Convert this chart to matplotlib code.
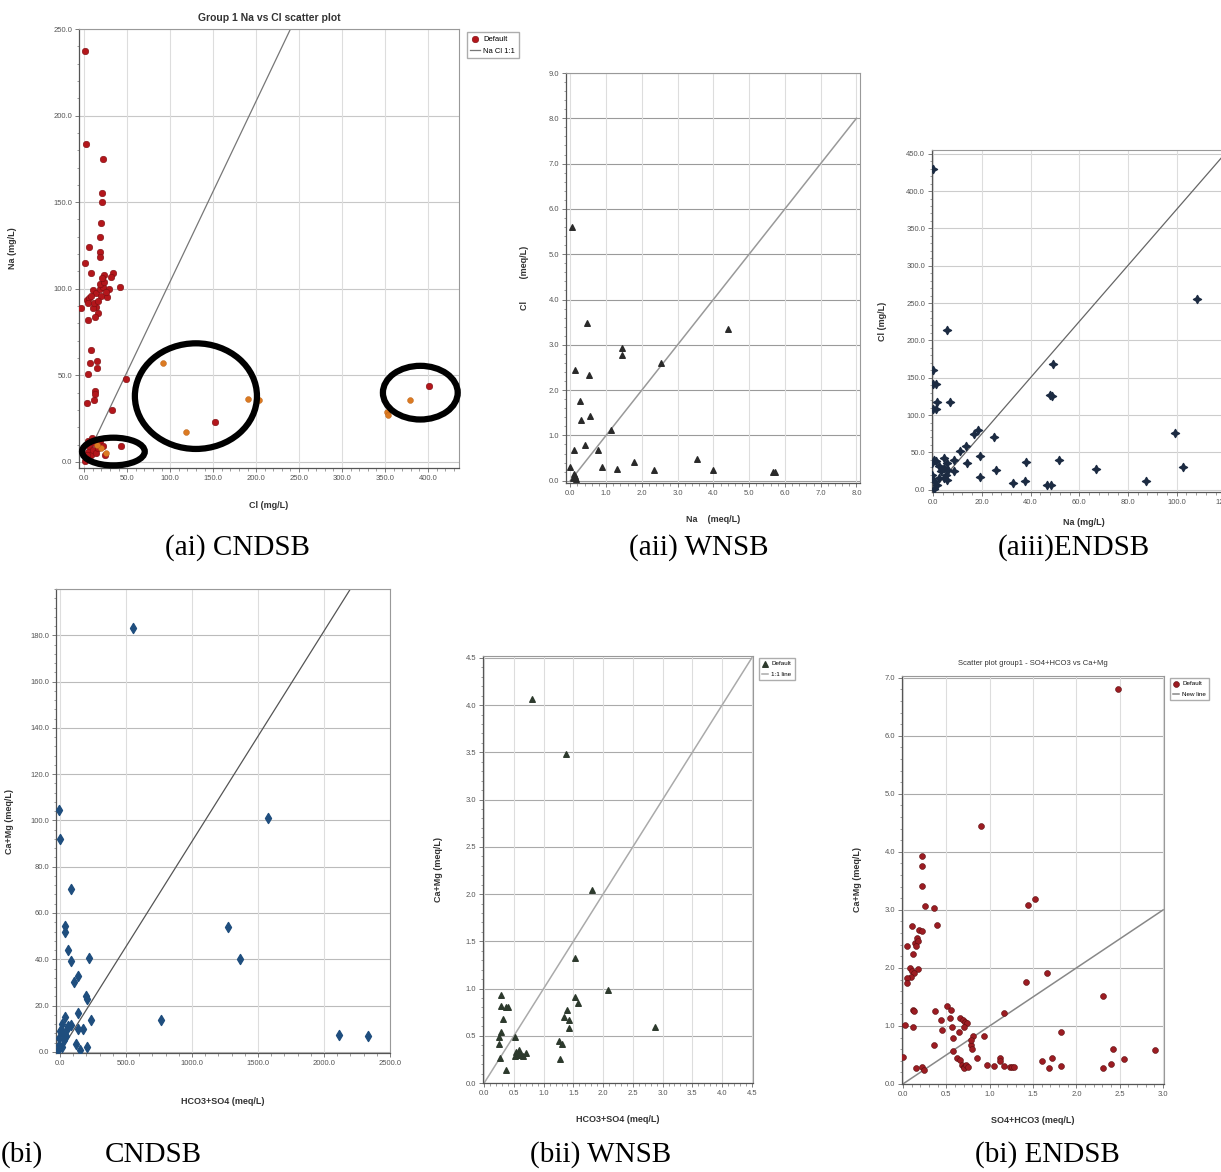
import matplotlib
matplotlib.use("Agg")
import matplotlib.pyplot as plt
from matplotlib.patches import Ellipse
from matplotlib.ticker import AutoMinorLocator, FormatStrFormatter
import numpy as np

W, H = 1221, 1172

# ---- (ai) CNDSB : Na vs Cl (mg/L) ----
ai_red_x = [1.5, 2, 22, 21, 21, 20, 19, 18, 18, 6, 1, 8.5, 34, 31, 23, -4, 5, 8, 7, 15, 14.5, 5,
            13, 12.5, 12, 3.5, 48.5, 32.6, 152, 401, 43,
            3, 6, 10, 14, 18, 22, 26, 14, 16, 13, 5, 10, 18, 23, 29, 42, 20, 12, 8, 25, 16, 21,
            2, 4, 6, 8, 10, 12, 14, 16, 18, 22, 24, 5, 9, 1, 3]
ai_red_y = [237.5, 183.5, 175, 155.5, 150, 138, 130, 121, 118.5, 124, 114.7, 109, 109, 107, 108, 89, 82,
            64.6, 57, 58, 54.5, 50.7, 41, 39.5, 36, 34, 48, 30, 23, 43.8, 9,
            93.5, 94.4, 99.3, 97.3, 99.7, 101, 95.4, 89.6, 85.8, 83.8, 91.5, 88.7, 103, 104, 100, 101,
            96, 92, 96, 98, 93, 106,
            2, 6, 9, 4, 7, 11, 5, 8, 12, 9, 4, 12, 14, 0.5, 4]
ai_orange_x = [92, 119, 191, 203, 352, 353, 379, 20, 25, 15]
ai_orange_y = [57, 17, 36.6, 36, 29, 27, 35.7, 8, 5, 10]
ai_line_x = [0, 240]
ai_line_y = [0, 250]
# circled groups: centre x, centre y, width, height
ai_circles = [(34, 6, 73, 16), (130, 38, 142, 61), (391, 40, 87, 31)]

# ---- (aii) WNSB : Cl vs Na (meq/L) ----
aii_x = [0.05, 0.48, 1.44, 1.44, 0.14, 0.53, 2.54, 4.42, 0.28, 0.54, 0.31, 1.14, 0.42, 0.09, 0.77,
         0.0, 0.88, 1.3, 1.77, 2.33, 3.53, 4.0, 5.67, 5.72, 0.1, 0.12, 0.08, 0.15]
aii_y = [5.6, 3.48, 2.92, 2.77, 2.44, 2.34, 2.59, 3.36, 1.77, 1.43, 1.34, 1.11, 0.79, 0.68, 0.68,
         0.31, 0.31, 0.26, 0.42, 0.23, 0.48, 0.23, 0.2, 0.2, 0.15, 0.1, 0.06, 0.04]
aii_line_x = [0, 8]
aii_line_y = [0, 8]

# ---- (aiii) ENDSB : Cl vs Na (mg/L) ----
aiii_x = [0.1, 108.5, 5.6, 0, 0, 1.0, 1.5, 6.7, 0, 1.2, 49.2, 48, 49, 99.5, 102.8, 87.4, 67, 51.7,
          38, 37.7, 32.9, 46.9, 48.2, 25.9, 24.9, 19.1, 19.1, 18.3, 16.6, 13.6, 13.9, 11.1, 8.4,
          8.7, 5.9, 4.4, 0.3, 1.0, -0.4, 2.3, 4.4, 5.8, 3.0, 5.1, 2.3, 4.4, 5.8, -0.4, 0.3, 1.6, 0.3]
aiii_y = [429, 256, 214.5, 161, 142, 142, 118, 118, 108, 108, 168, 127, 126, 76, 30, 11.5, 28, 39.5,
          37, 11.5, 9.3, 7, 7, 26, 70, 45, 17, 80, 74.5, 58, 36, 51.4, 40,
          25.7, 26, 42.6, 40.4, 38, 36, 31.5, 29, 36, 24.8, 20.4, 16, 16, 13.7, 20.4, 11.5, 7, 0.4]
aiii_line_x = [0, 122]
aiii_line_y = [0, 458]

# ---- (bi) CNDSB : Ca+Mg vs HCO3+SO4 ----
bi_x = [550, -5, 0, 1578, 81, 38, 38, 1275, 63, 83, 220, 1364, 139, 106, 194, 207, 134, 232, 763,
        2116, 2331, 38, 81, 139, 177, 121, 207, 152, 12, 0, -5, -8, 25, 50, 12, -12, 30, 60, 45]
bi_y = [183, 104.3, 91.9, 101, 70.3, 54.3, 52, 53.9, 43.9, 39.3, 40.7, 40.3, 32.9, 30, 24, 22.9,
        16.7, 13.9, 13.9, 7.1, 6.7, 15, 11.4, 10, 10, 3.6, 1.9, 1, 12, 9, 6, 3, 8, 10, 2, 1, 5, 11, 7]
bi_line_x = [0, 2200]
bi_line_y = [0, 200]

# ---- (bii) WNSB : Ca+Mg vs HCO3+SO4 ----
bii_x = [0.81, 1.37, 1.82, 1.52, 2.08, 1.53, 1.58, 1.39, 1.34, 1.42, 1.42, 2.88, 0.29, 0.29, 0.37,
         0.4, 0.32, 0.28, 0.25, 0.25, 0.51, 0.26, 0.37, 1.26, 1.30, 1.28,
         0.52, 0.56, 0.6, 0.54, 0.58, 0.7, 0.66, 0.62]
bii_y = [4.06, 3.48, 2.04, 1.32, 0.98, 0.91, 0.85, 0.77, 0.70, 0.67, 0.58, 0.59, 0.93, 0.82, 0.8,
         0.8, 0.68, 0.54, 0.49, 0.41, 0.49, 0.26, 0.14, 0.44, 0.41, 0.25,
         0.29, 0.31, 0.3, 0.33, 0.35, 0.32, 0.29, 0.3]
bii_line_x = [0, 4.5]
bii_line_y = [0, 4.5]

# ---- (bi) ENDSB : Ca+Mg vs SO4+HCO3 ----
be_x = [2.48, 0.90, 0.22, 0.22, 0.22, 0.26, 0.36, 0.39, 1.44, 1.52, 1.42, 1.66, 2.31, 1.82, 1.17,
        0.81, 0.94, 0.10, 0.05, 0.12, 0.19, 0.22, 0.16, 0.14, 0.18, 0.15, 0.08, 0.10, 0.13, 0.09,
        0.05, 0.18, 0.05, 0.03, 0.12, 0.12, 0.13, 0.37, 0.44, 0.45, 0.36, 0.0, 0.15, 0.22, 0.24,
        0.51, 0.55, 0.54, 0.57, 0.58, 0.66, 0.65, 0.58, 0.62, 0.66, 0.68, 0.69, 0.72, 0.74, 0.70,
        0.78, 0.80, 0.78, 0.70, 0.71, 0.73, 0.75, 0.85, 0.97, 1.05, 1.12, 1.12, 1.16, 1.24, 1.26,
        1.28, 1.60, 1.68, 1.72, 1.82, 2.31, 2.40, 2.42, 2.55, 2.91]
be_y = [6.8, 4.45, 3.92, 3.75, 3.42, 3.07, 3.03, 2.74, 3.09, 3.18, 1.76, 1.92, 1.52, 0.89, 1.22,
        0.83, 0.83, 2.72, 2.38, 2.24, 2.66, 2.63, 2.51, 2.43, 2.46, 2.38, 2.0, 1.94, 1.91, 1.85,
        1.82, 1.99, 1.74, 1.02, 0.99, 1.28, 1.25, 1.25, 1.1, 0.93, 0.67, 0.47, 0.27, 0.30, 0.24,
        1.34, 1.28, 1.13, 0.99, 0.79, 1.13, 0.9, 0.56, 0.44, 0.41, 0.33, 1.1, 1.07, 1.05, 0.99,
        0.67, 0.61, 0.76, 0.3, 0.27, 0.32, 0.29, 0.44, 0.33, 0.31, 0.44, 0.40, 0.31, 0.30, 0.30,
        0.30, 0.4, 0.27, 0.44, 0.31, 0.28, 0.34, 0.61, 0.43, 0.59]
be_line_x = [0, 3.0]
be_line_y = [0, 3.0]

sans = ["Liberation Sans", "DejaVu Sans"]
plt.rcParams["font.family"] = sans

fig = plt.figure(figsize=(W / 100, H / 100), dpi=100)
fig.patch.set_facecolor("white")


def place(l, t, r, b):
    return [l / W, 1 - b / H, (r - l) / W, (b - t) / H]


def style(ax, xlim, ylim, xstep, ystep, xlabel, ylabel, xpad, ypad, hgrid="#c8c8c8", vgrid="#dddddd"):
    ax.set_xlim(*xlim)
    ax.set_ylim(*ylim)
    ax.set_xticks(np.arange(0, xlim[1] + 1e-9, xstep))
    ax.set_yticks(np.arange(0, ylim[1] + 1e-9, ystep))
    ax.xaxis.set_major_formatter(FormatStrFormatter("%.1f"))
    ax.yaxis.set_major_formatter(FormatStrFormatter("%.1f"))
    ax.xaxis.set_minor_locator(AutoMinorLocator(5))
    ax.yaxis.set_minor_locator(AutoMinorLocator(5))
    ax.tick_params(which="major", labelsize=5.5, labelcolor="#555555", length=3, width=0.6,
                   color="#666666", pad=2)
    ax.tick_params(which="minor", length=1.8, width=0.5, color="#777777")
    ax.grid(False)
    for v in ax.get_yticks():
        ax.axhline(v, color=hgrid, lw=0.8, zorder=0)
    for v in ax.get_xticks():
        ax.axvline(v, color=vgrid, lw=0.8, zorder=0)
    for s in ["left", "bottom"]:
        ax.spines[s].set_color("#555555")
        ax.spines[s].set_linewidth(0.9)
    for s in ["top", "right"]:
        ax.spines[s].set_color("#999999")
        ax.spines[s].set_linewidth(0.8)
    ax.set_xlabel(xlabel, fontsize=6.5, fontweight="bold", color="#333333", labelpad=xpad)
    ax.set_ylabel(ylabel, fontsize=6.5, fontweight="bold", color="#333333", labelpad=ypad)


# (ai)
ax1 = fig.add_axes(place(79, 29, 459, 468))
style(ax1, (-6, 436), (-3.5, 250), 50, 50, "Cl (mg/L)", "Na (mg/L)", 14, 26)
ax1.plot(ai_line_x, ai_line_y, color="#777777", lw=0.9, label="Na Cl 1:1", zorder=2)
ax1.scatter(ai_red_x, ai_red_y, s=22, color="#b3161b", edgecolors="#7a0d10", linewidths=0.4,
            zorder=3, label="Default")
ax1.scatter(ai_orange_x, ai_orange_y, s=18, color="#db7a22", edgecolors="#b85f14", linewidths=0.3,
            zorder=3)
for cx, cy, w, h in ai_circles:
    ax1.add_patch(Ellipse((cx, cy), w, h, fill=False, edgecolor="black", lw=4.5, zorder=4,
                          clip_on=False))
ax1.set_title("Group 1 Na vs Cl scatter plot", fontsize=7.5, fontweight="bold", color="#333333",
              pad=6)
h1, l1 = ax1.get_legend_handles_labels()
ax1.legend(h1[::-1], l1[::-1], loc="upper left", bbox_to_anchor=(1.01, 1.003), fontsize=5.5,
           frameon=True, fancybox=False, edgecolor="#999999", handlelength=1.2,
           borderpad=0.5, labelspacing=0.6, handletextpad=0.5)

# (aii)
ax2 = fig.add_axes(place(566, 73, 860, 483))
style(ax2, (-0.12, 8.1), (-0.05, 9.0), 1, 1, "Na    (meq/L)", "Cl         (meq/L)", 13, 14,
      hgrid="#9a9a9a", vgrid="#dddddd")
ax2.plot(aii_line_x, aii_line_y, color="#999999", lw=1.1, zorder=2)
ax2.scatter(aii_x, aii_y, s=16, marker="^", color="#2a2a2a", zorder=3)

# (aiii)
ax3 = fig.add_axes(place(932, 150, 1235, 492))
style(ax3, (-0.5, 124), (-3, 455), 20, 50, "Na (mg/L)", "Cl (mg/L)", 9, 14,
      hgrid="#cccccc", vgrid="#dddddd")
ax3.plot(aiii_line_x, aiii_line_y, color="#666666", lw=0.9, zorder=2)
ax3.scatter(aiii_x, aiii_y, s=34, marker=(4, 1, 0), color="#1c2b42", zorder=3)

# (bi) CNDSB
ax4 = fig.add_axes(place(56, 589, 390, 1053))
style(ax4, (-30, 2500), (-0.5, 200), 500, 20, "HCO3+SO4 (meq/L)", "Ca+Mg (meq/L)", 22, 12,
      hgrid="#bbbbbb", vgrid="#dddddd")
ax4.set_yticks(np.arange(0, 181, 20))
ax4.plot(bi_line_x, bi_line_y, color="#555555", lw=0.9, zorder=2)
ax4.scatter(bi_x, bi_y, s=26, marker="d", color="#1f4e7e", zorder=3)

# (bii) WNSB
ax5 = fig.add_axes(place(483, 656, 753, 1083))
style(ax5, (-0.02, 4.52), (0.0, 4.52), 0.5, 0.5, "HCO3+SO4 (meq/L)", "Ca+Mg (meq/L)", 13, 16,
      hgrid="#aaaaaa", vgrid="#dddddd")
ax5.plot(bii_line_x, bii_line_y, color="#aaaaaa", lw=1.1, label="1:1 line", zorder=2)
ax5.scatter(bii_x, bii_y, s=16, marker="^", color="#2d3a2d", zorder=3, label="Default")
h5, l5 = ax5.get_legend_handles_labels()
ax5.legend(h5[::-1], l5[::-1], loc="upper left", bbox_to_anchor=(1.01, 1.003), fontsize=4.5,
           frameon=True, fancybox=False, edgecolor="#999999", handlelength=1.0,
           borderpad=0.5, labelspacing=0.8, handletextpad=0.5)

# (bi) ENDSB
ax6 = fig.add_axes(place(902, 676, 1164, 1084))
style(ax6, (-0.01, 3.01), (0.0, 7.03), 0.5, 1, "SO4+HCO3 (meq/L)", "Ca+Mg (meq/L)", 13, 16,
      hgrid="#aaaaaa", vgrid="#dddddd")
ax6.plot(be_line_x, be_line_y, color="#888888", lw=1.1, label="New line", zorder=2)
ax6.scatter(be_x, be_y, s=18, color="#9c1c22", edgecolors="#5a0e10", linewidths=0.4, zorder=3,
            label="Default")
ax6.set_title("Scatter plot group1 - SO4+HCO3 vs Ca+Mg", fontsize=5.5, color="#333333", pad=8)
h6, l6 = ax6.get_legend_handles_labels()
ax6.legend(h6[::-1], l6[::-1], loc="upper left", bbox_to_anchor=(1.01, 1.003), fontsize=4.5,
           frameon=True, fancybox=False, edgecolor="#999999", handlelength=1.0,
           borderpad=0.5, labelspacing=0.8, handletextpad=0.5)

# captions
serif = ["Liberation Serif", "DejaVu Serif"]
cap = dict(fontsize=21, family=serif, ha="center", va="center", color="black")
fig.text(237 / W, 1 - 548 / H, "(ai) CNDSB", **cap)
fig.text(699 / W, 1 - 548 / H, "(aii) WNSB", **cap)
fig.text(1074 / W, 1 - 548 / H, "(aiii)ENDSB", **cap)
fig.text(22 / W, 1 - 1155 / H, "(bi)", **cap)
fig.text(153 / W, 1 - 1155 / H, "CNDSB", **cap)
fig.text(601 / W, 1 - 1155 / H, "(bii) WNSB", **cap)
fig.text(1047 / W, 1 - 1155 / H, "(bi) ENDSB", **cap)

fig.savefig("out.png", dpi=100, facecolor="white")
